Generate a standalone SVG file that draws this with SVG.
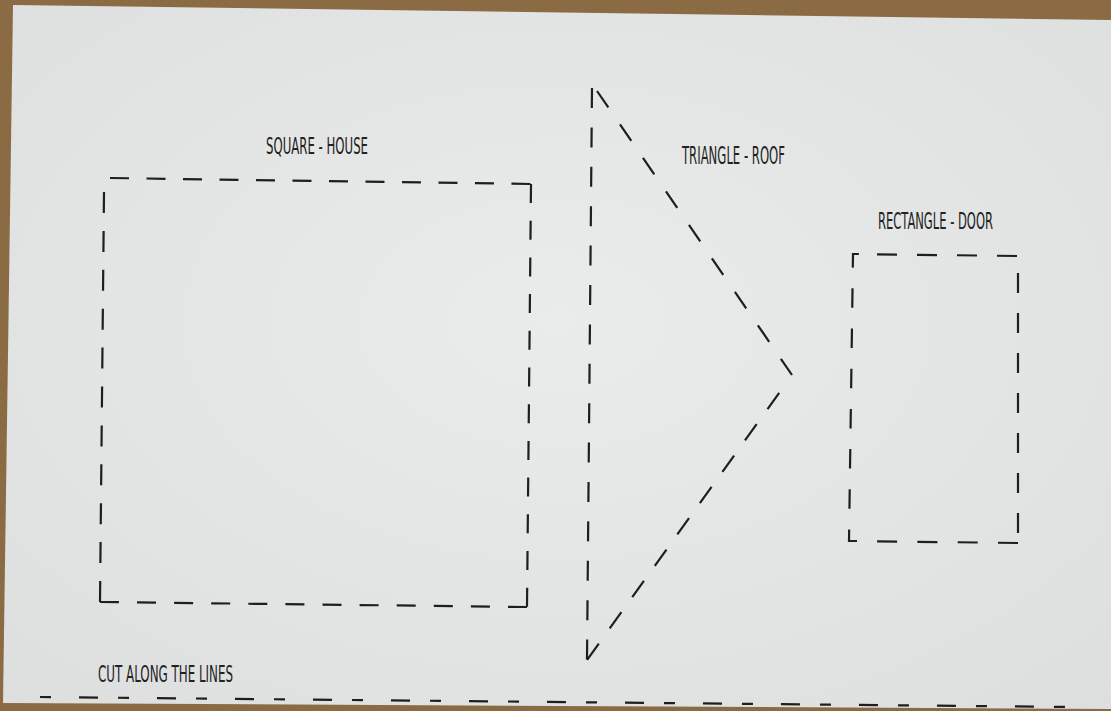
<svg xmlns="http://www.w3.org/2000/svg" width="1111" height="711" viewBox="0 0 1111 711">
  <defs>
    <radialGradient id="paperGrad" cx="0.5" cy="0.45" r="0.75">
      <stop offset="0" stop-color="#eaebeb"/>
      <stop offset="1" stop-color="#dddfde"/>
    </radialGradient>
  </defs>
  <style>
    .cut { fill: none; stroke: #1e1e1e; stroke-width: 2.2; stroke-linecap: butt; stroke-linejoin: miter; }
    .lbl { font-family: 'Liberation Sans Narrow', 'DejaVu Sans Condensed', 'Liberation Sans', sans-serif; fill: #222222; }
  </style>
  <rect x="0" y="0" width="1111" height="711" fill="#8a6b44"/>
  <path d="M13,5 L1111,20 L1111,709 L3,703 Z" fill="url(#paperGrad)"/>

  <g id="square-house">
    <line class="cut" x1="110" y1="178" x2="531" y2="184" stroke-dasharray="19 17.5"/>
    <line class="cut" x1="531" y1="184" x2="527" y2="607" stroke-dasharray="19 17.7"/>
    <line class="cut" x1="527" y1="607" x2="100" y2="602" stroke-dasharray="19 18.1"/>
    <line class="cut" x1="100" y1="602" x2="104" y2="192" stroke-dasharray="21 17.9"/>
    <text class="lbl" x="266" y="154" font-size="23" textLength="102" lengthAdjust="spacingAndGlyphs">SQUARE - HOUSE</text>
  </g>

  <g id="triangle-roof">
    <line class="cut" x1="592" y1="88" x2="587" y2="660" stroke-dasharray="20 19.4"/>
    <line class="cut" x1="597" y1="91" x2="792" y2="375" stroke-dasharray="20 20.6"/>
    <line class="cut" x1="779.2" y1="392.9" x2="587" y2="660" stroke-dasharray="20 18.6"/>
    <text class="lbl" x="682" y="164" font-size="24" textLength="103" lengthAdjust="spacingAndGlyphs">TRIANGLE - ROOF</text>
  </g>

  <g id="rectangle-door">
    <line class="cut" x1="877" y1="254.3" x2="1017" y2="256" stroke-dasharray="20 20"/>
    <line class="cut" x1="1018" y1="273" x2="1018" y2="533" stroke-dasharray="20 20"/>
    <line class="cut" x1="1018" y1="543" x2="877" y2="541.3" stroke-dasharray="20 20.3"/>
    <path class="cut" d="M857,541 L849,541 L853,254 L859,254" stroke-dasharray="19.5 20.7"/>
    <text class="lbl" x="878" y="229" font-size="23" textLength="115" lengthAdjust="spacingAndGlyphs">RECTANGLE - DOOR</text>
  </g>

  <g id="cut-note">
    <line class="cut" x1="40" y1="697" x2="1075" y2="707" stroke-dasharray="11 28 19 20"/>
    <text class="lbl" x="98" y="682" font-size="23" textLength="135" lengthAdjust="spacingAndGlyphs">CUT ALONG THE LINES</text>
  </g>
</svg>
